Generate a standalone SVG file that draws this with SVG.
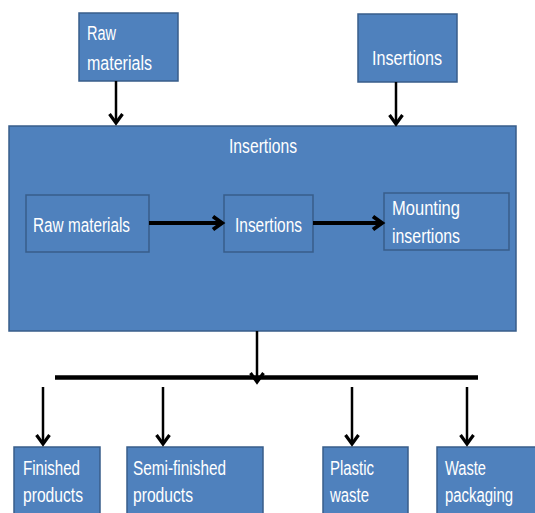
<svg xmlns="http://www.w3.org/2000/svg" width="535" height="513" viewBox="0 0 535 513">
<style>
.box{fill:#4F81BD;stroke:#385D8A;stroke-width:1.5}
.t{font-family:"Liberation Sans",Arial,sans-serif;font-size:20px;fill:#FFFFFF}
.c{stroke:#000;fill:none;stroke-width:2.5}
.ci{stroke:#000;fill:none;stroke-width:4}
</style>
<defs>
<marker id="ah" markerUnits="userSpaceOnUse" markerWidth="20" markerHeight="20" refX="12" refY="8" orient="auto" overflow="visible">
<path d="M3,1.5 L12,8 L3,14.5" fill="none" stroke="#000" stroke-width="3.2"/>
</marker>
<marker id="ahi" markerUnits="userSpaceOnUse" markerWidth="20" markerHeight="20" refX="12" refY="8" orient="auto" overflow="visible">
<path d="M3,1.5 L12,8 L3,14.5" fill="none" stroke="#000" stroke-width="4"/>
</marker>
</defs>
<g id="main">
<rect class="box" x="9" y="126" width="507" height="205"/>
<text class="t" x="229" y="153" textLength="68" lengthAdjust="spacingAndGlyphs">Insertions</text>
</g>
<g id="raw-top">
<rect class="box" x="79" y="13" width="99" height="68"/>
<text class="t" x="87" y="40" textLength="29" lengthAdjust="spacingAndGlyphs">Raw</text>
<text class="t" x="87" y="70" textLength="65" lengthAdjust="spacingAndGlyphs">materials</text>
</g>
<g id="ins-top">
<rect class="box" x="358" y="14" width="99" height="68"/>
<text class="t" x="372" y="65" textLength="70" lengthAdjust="spacingAndGlyphs">Insertions</text>
</g>
<g id="raw-in">
<rect class="box" x="26" y="195" width="123" height="57"/>
<text class="t" x="33" y="232" textLength="97" lengthAdjust="spacingAndGlyphs">Raw materials</text>
</g>
<g id="ins-in">
<rect class="box" x="224" y="195" width="89" height="57"/>
<text class="t" x="235" y="232" textLength="67" lengthAdjust="spacingAndGlyphs">Insertions</text>
</g>
<g id="mount-in">
<rect class="box" x="384" y="193" width="125" height="57"/>
<text class="t" x="392" y="215" textLength="68" lengthAdjust="spacingAndGlyphs">Mounting</text>
<text class="t" x="392" y="243" textLength="68" lengthAdjust="spacingAndGlyphs">insertions</text>
</g>
<g id="finished">
<rect class="box" x="14" y="447" width="86" height="75"/>
<text class="t" x="23" y="475" textLength="57" lengthAdjust="spacingAndGlyphs">Finished</text>
<text class="t" x="23" y="502" textLength="60" lengthAdjust="spacingAndGlyphs">products</text>
</g>
<g id="semi">
<rect class="box" x="127" y="447" width="136" height="75"/>
<text class="t" x="133" y="475" textLength="93" lengthAdjust="spacingAndGlyphs">Semi-finished</text>
<text class="t" x="133" y="502" textLength="60" lengthAdjust="spacingAndGlyphs">products</text>
</g>
<g id="plastic">
<rect class="box" x="323" y="447" width="85" height="75"/>
<text class="t" x="330" y="475" textLength="44" lengthAdjust="spacingAndGlyphs">Plastic</text>
<text class="t" x="330" y="502" textLength="39" lengthAdjust="spacingAndGlyphs">waste</text>
</g>
<g id="packaging">
<rect class="box" x="437" y="447" width="105" height="75"/>
<text class="t" x="445" y="475" textLength="41" lengthAdjust="spacingAndGlyphs">Waste</text>
<text class="t" x="445" y="502" textLength="68" lengthAdjust="spacingAndGlyphs">packaging</text>
</g>
<g id="connectors">
<line class="c" x1="116" y1="81" x2="116" y2="123" marker-end="url(#ah)"/>
<line class="c" x1="396" y1="82" x2="396" y2="124" marker-end="url(#ah)"/>
<line class="ci" x1="149" y1="223" x2="222" y2="223" marker-end="url(#ahi)"/>
<line class="ci" x1="313" y1="223" x2="382" y2="223" marker-end="url(#ahi)"/>
<line class="c" x1="257" y1="331" x2="257" y2="382" marker-end="url(#ah)"/>
<line x1="55" y1="377.5" x2="478" y2="377.5" stroke="#000" stroke-width="4.5"/>
<line class="c" x1="43" y1="387" x2="43" y2="444" marker-end="url(#ah)"/>
<line class="c" x1="163" y1="387" x2="163" y2="444" marker-end="url(#ah)"/>
<line class="c" x1="352" y1="387" x2="352" y2="444" marker-end="url(#ah)"/>
<line class="c" x1="467" y1="387" x2="467" y2="444" marker-end="url(#ah)"/>
</g>
</svg>
